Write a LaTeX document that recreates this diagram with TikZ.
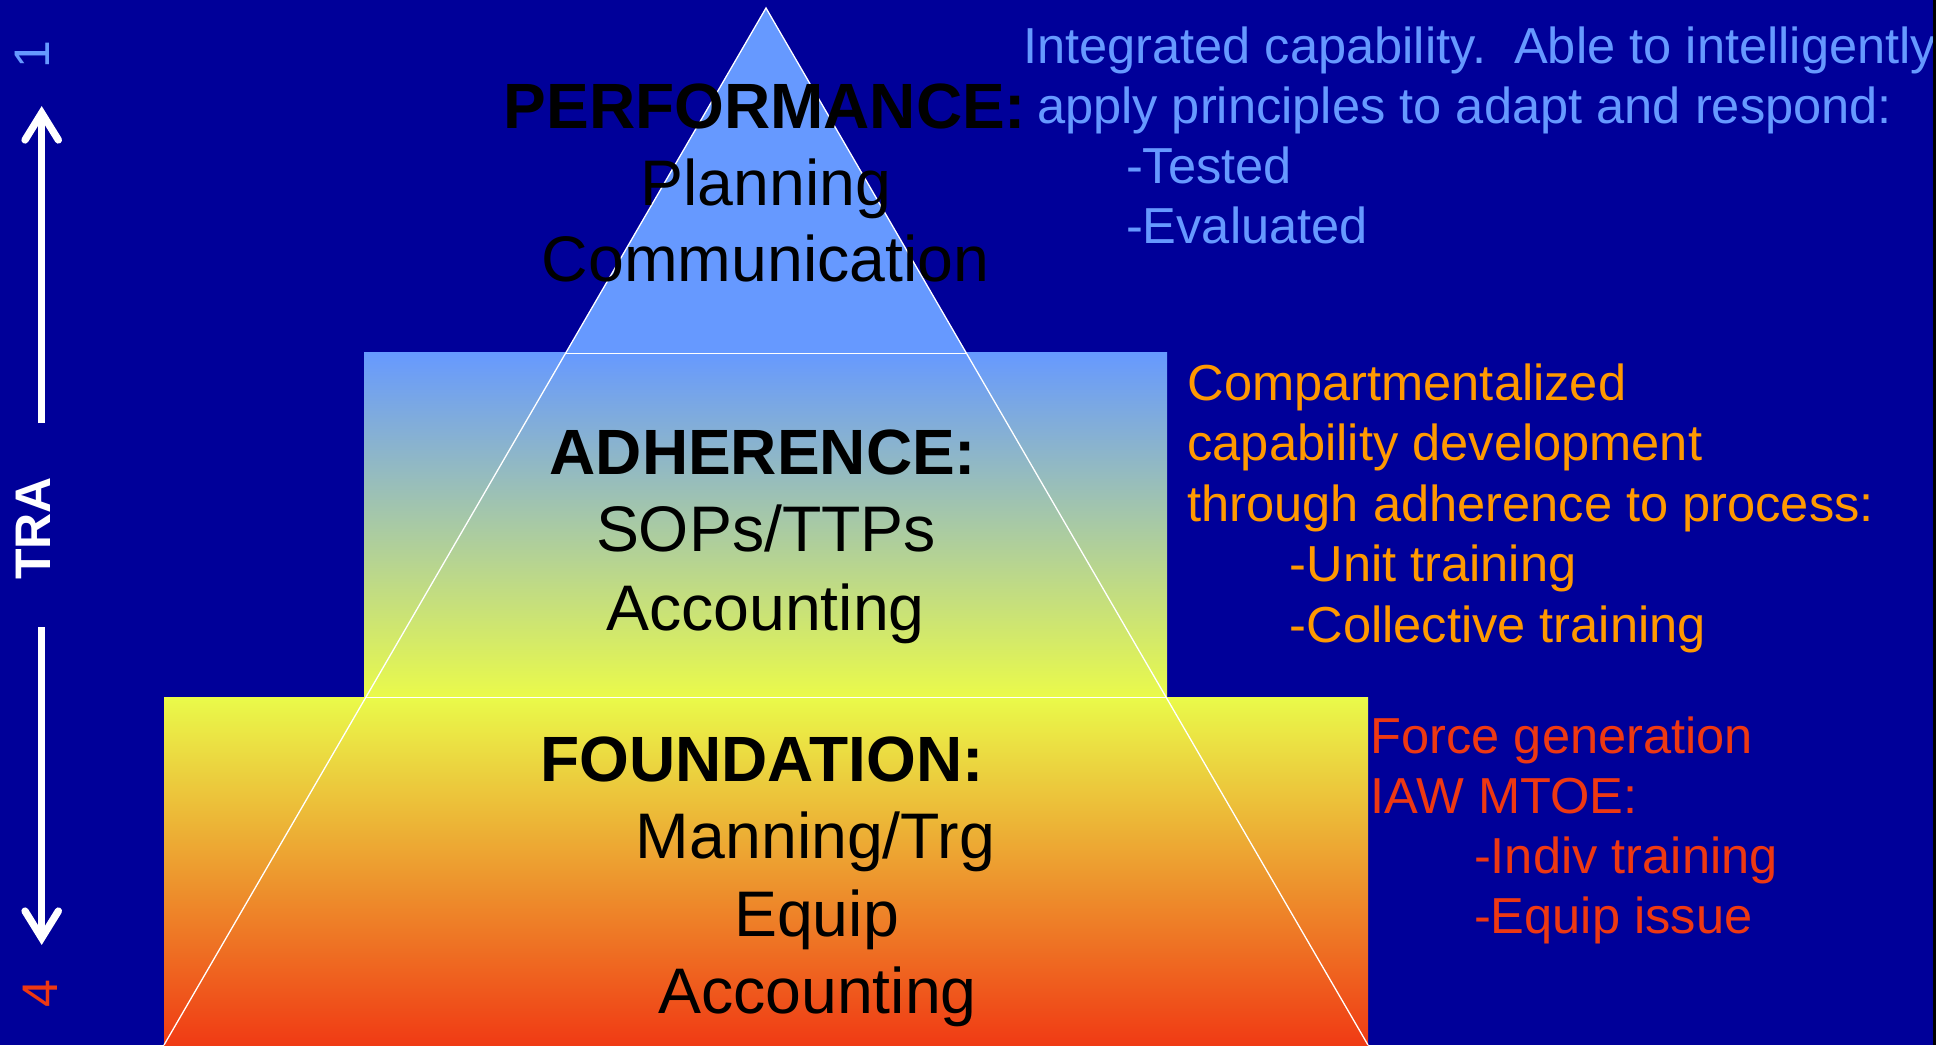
\documentclass[tikz,border=0pt]{standalone}
\usepackage{fontspec}
\setmainfont{Liberation Sans}
\usetikzlibrary{calc}
\definecolor{bg}{RGB}{0,0,153}
\definecolor{lblue}{RGB}{102,153,255}
\definecolor{orng}{RGB}{255,153,0}
\definecolor{redt}{RGB}{238,56,18}
\definecolor{ylw}{RGB}{234,250,74}
\definecolor{gold}{RGB}{236,186,58}
\definecolor{redf}{RGB}{240,58,20}
\begin{document}
\begin{tikzpicture}[x=1bp,y=-1bp,
  txt/.style={inner sep=0pt, outer sep=0pt},
  big/.style={txt, anchor=base, font=\fontsize{64.4bp}{77bp}\selectfont},
  bigb/.style={txt, anchor=base, font=\fontsize{64bp}{77bp}\selectfont\bfseries},
  side/.style={txt, anchor=base west, font=\fontsize{50.6bp}{60bp}\selectfont},
  rotlbl/.style={txt, anchor=center, rotate=90, font=\fontsize{50bp}{60bp}\selectfont},
  whiteline/.style={white, line width=1.3bp},
  trashaft/.style={white, line width=7.3bp},
  trahead/.style={white, line width=7.3bp, line join=miter, line cap=round}]
\useasboundingbox (0,0) rectangle (1936,1045);
\fill[bg] (0,0) rectangle (1936,1045);
\begin{scope}
\clip (0,0) rectangle (1933,1045);
% pyramid
\coordinate (apex) at (766,8);
\coordinate (bl) at (164,1045);
\coordinate (br) at (1368,1045);
\fill[lblue] (apex) -- (bl) -- (br) -- cycle;
\shade[top color=lblue, bottom color=ylw] (364,352) rectangle (1167,697.5);
\shade[top color=ylw, middle color=gold, bottom color=redf] (164,697.5) rectangle (1368,1046);
\coordinate (l1) at ($(apex)!0.3332!(bl)$);
\coordinate (r1) at ($(apex)!0.3332!(br)$);
\coordinate (l2) at ($(apex)!0.6649!(bl)$);
\coordinate (r2) at ($(apex)!0.6649!(br)$);
\draw[whiteline] (bl) -- (apex) -- (br);
\draw[whiteline] (l1) -- (r1);
\draw[whiteline] (l2) -- (r2);
% pyramid texts
\node[bigb] (perf) at (765,128.3) {PERFORMANCE:};
\node[big] (plan) at (766,205.7) {Planning};
\node[big] (comm) at (765.5,281.7) {Communication};
\node[bigb] (adh) at (763,474.3) {ADHERENCE:};
\node[big] (sops) at (766,551.7) {SOPs/TTPs};
\node[big] (acc1) at (765.5,630) {Accounting};
\node[bigb] (found) at (762,781.7) {FOUNDATION:};
\node[big] (mann) at (815.5,858.3) {Manning/Trg};
\node[big] (equip) at (816.5,936) {Equip};
\node[big] (acc2) at (817.5,1013.3) {Accounting};
% right texts
\node[side, text=lblue] (b1) at (1023,63.5) {Integrated capability.\ \ Able to intelligently};
\node[side, text=lblue] (b2) at (1037,123.5) {apply principles to adapt and respond:};
\node[side, text=lblue] (b3) at (1126,183.5) {-Tested};
\node[side, text=lblue] (b4) at (1126,243.5) {-Evaluated};
\node[side, text=orng] (o1) at (1187.5,400) {Compartmentalized};
\node[side, text=orng] (o2) at (1187.5,460.5) {capability development};
\node[side, text=orng] (o3) at (1187.5,521) {through adherence to process:};
\node[side, text=orng] (o4) at (1289.7,581.5) {-Unit training};
\node[side, text=orng] (o5) at (1289.7,642) {-Collective training};
\node[side, text=redt] (r1t) at (1370.5,753.3) {Force generation};
\node[side, text=redt] (r2t) at (1370.5,813.3) {IAW MTOE:};
\node[side, text=redt] (r3t) at (1474,873.3) {-Indiv training};
\node[side, text=redt] (r4t) at (1474,933.3) {-Equip issue};
% TRA axis
\node[rotlbl, text=lblue] (one) at (32,55) {1};
\node[rotlbl, text=white, font=\fontsize{50bp}{60bp}\selectfont\bfseries] (tra) at (33,528.5) {TRA};
\node[rotlbl, text=redt] (four) at (40.5,994) {4};
\coordinate (upbot) at (41.7,423);
\coordinate (uptip) at (41.7,113);
\coordinate (upl) at (25,140);
\coordinate (upr) at (58.4,140);
\draw[trashaft] (upbot) -- (uptip);
\draw[trahead] (upl) -- (uptip) -- (upr);
\coordinate (dntop) at (41.7,627);
\coordinate (dntip) at (41.7,938);
\coordinate (dnl) at (25,911);
\coordinate (dnr) at (58.4,911);
\draw[trashaft] (dntop) -- (dntip);
\draw[trahead] (dnl) -- (dntip) -- (dnr);
\end{scope}
\fill[black] (1933,0) rectangle (1936,1045);
\end{tikzpicture}
\end{document}
